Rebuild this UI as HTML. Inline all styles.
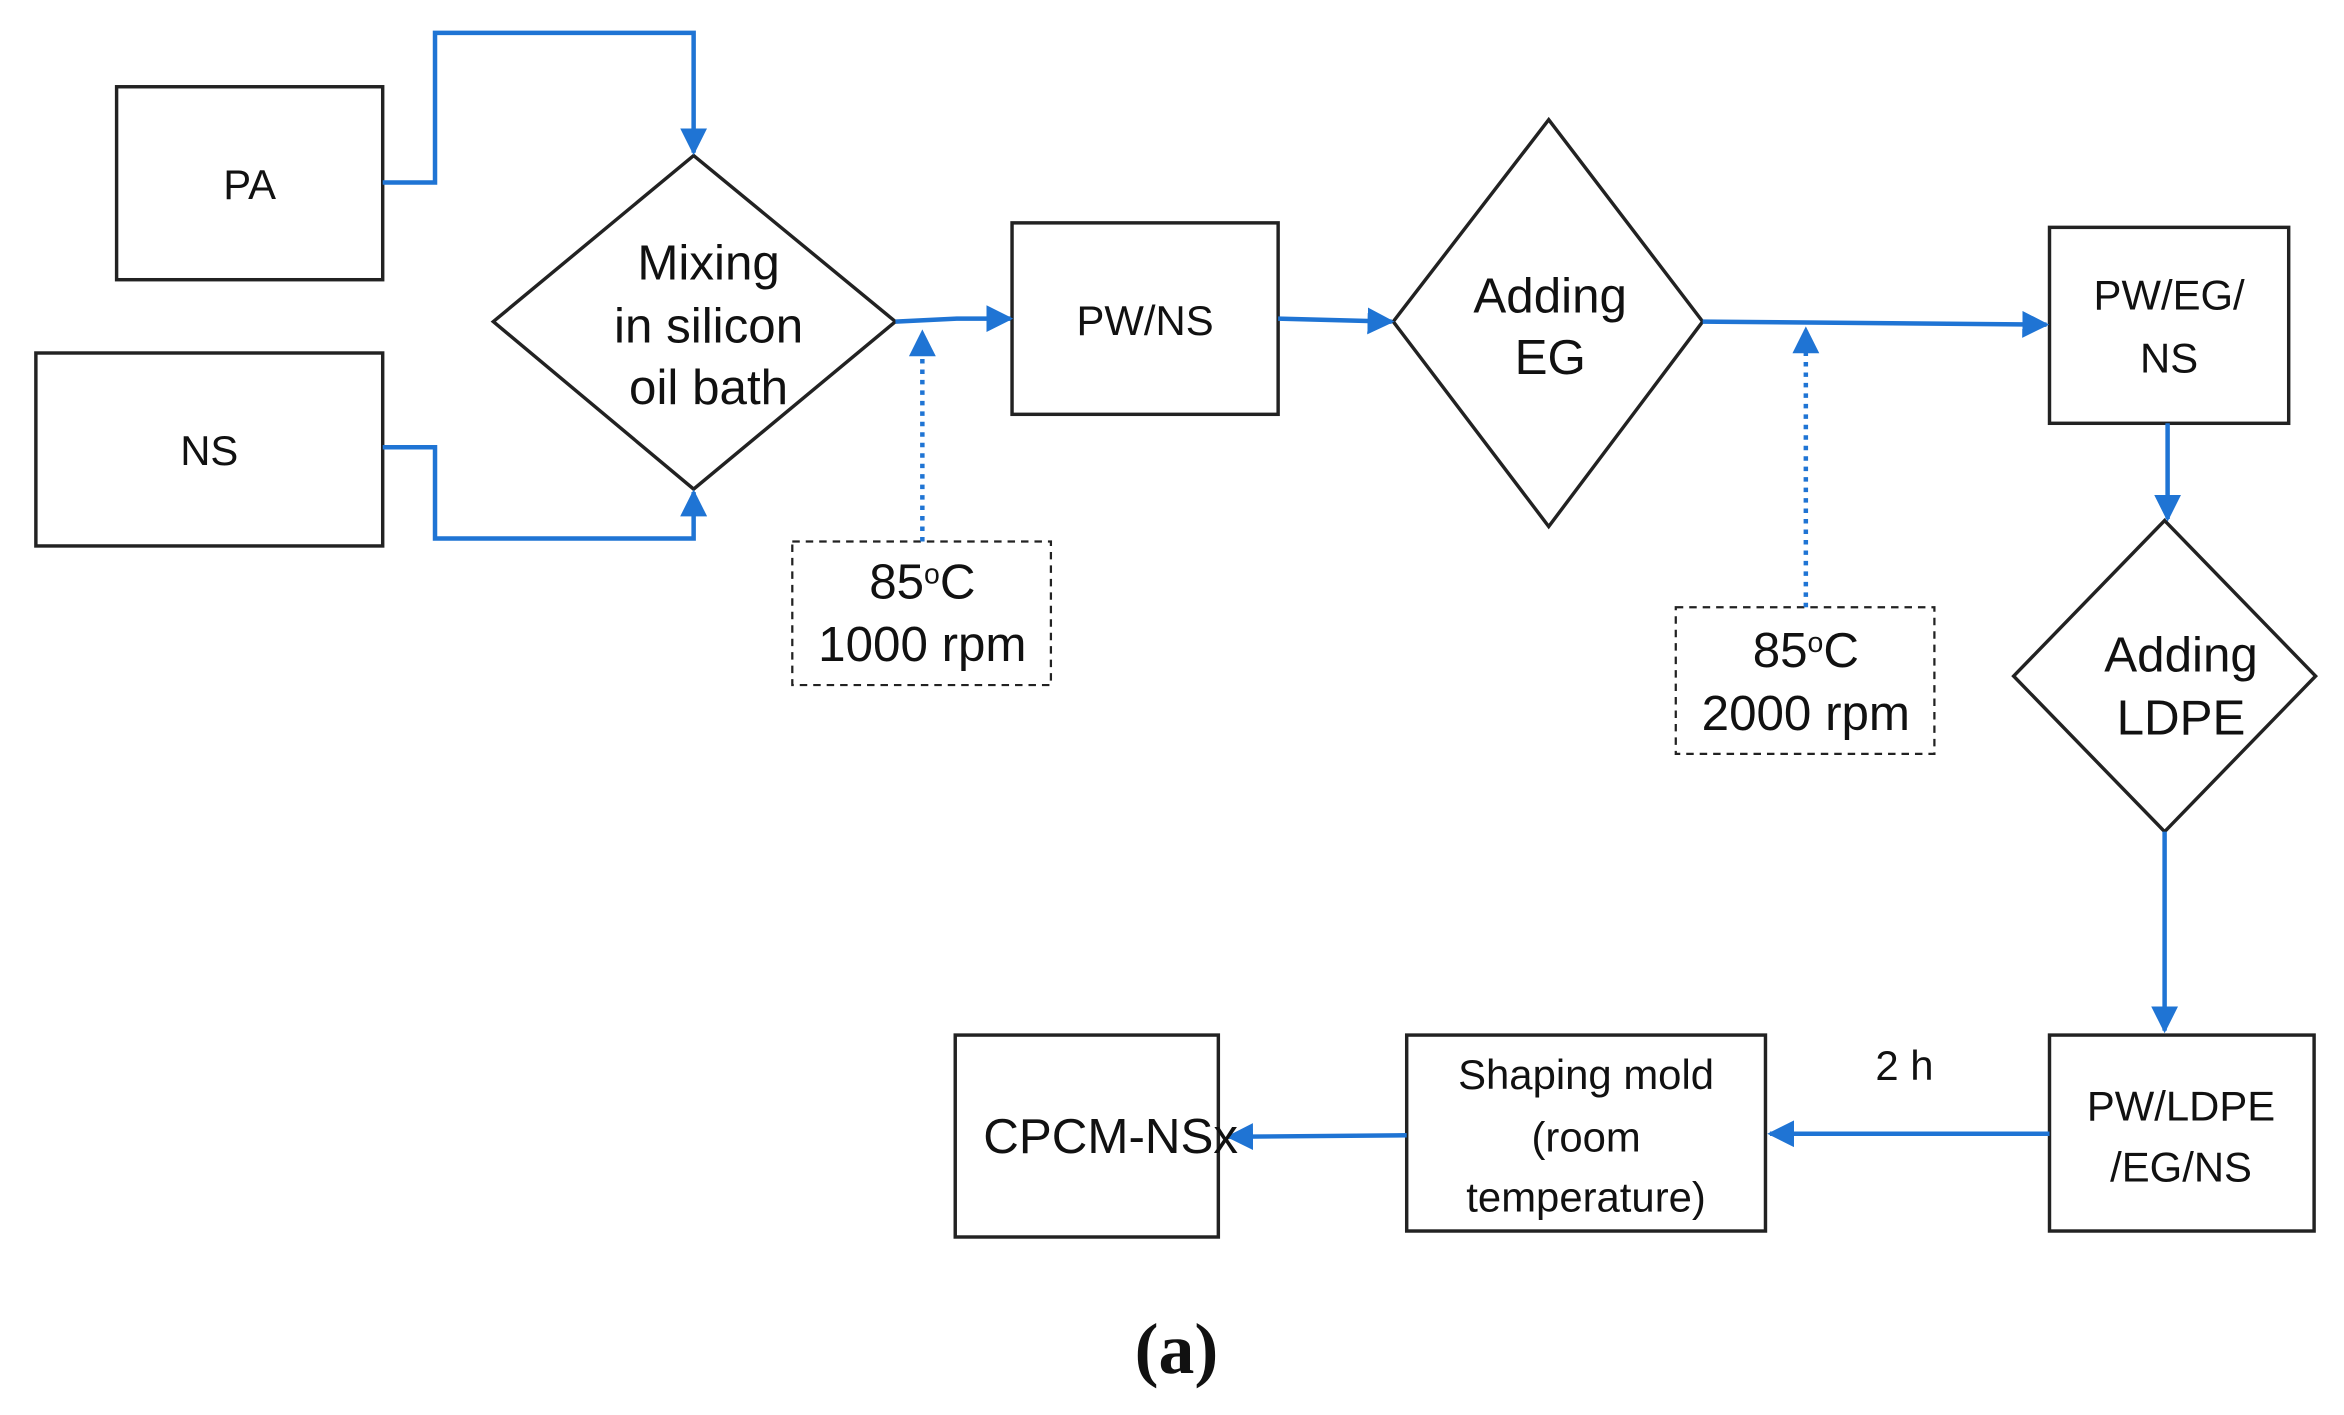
<!DOCTYPE html>
<html><head><meta charset="utf-8"><style>
html,body{margin:0;padding:0;background:#fff;}
svg{display:block;}
text{font-family:"Liberation Sans",sans-serif;fill:#111;text-anchor:middle;}
</style></head><body>
<svg width="2344" height="1415" viewBox="0 0 1568 946" preserveAspectRatio="none" xmlns="http://www.w3.org/2000/svg">
<defs>
<marker id="ahb" viewBox="0 0 10 10" refX="9" refY="5" markerWidth="18" markerHeight="18" orient="auto" markerUnits="userSpaceOnUse">
<path d="M0,0 L10,5 L0,10 z" fill="#1f74d4"/></marker>
</defs>
<g fill="none" stroke="#222" stroke-width="2.3">
<rect x="78" y="58" width="178" height="129"/>
<rect x="24" y="236" width="232" height="129"/>
<polygon points="464,104 599,215 464,327 330,215"/>
<rect x="677" y="149" width="178" height="128"/>
<polygon points="1036,80 1139,215 1036,352 932,215"/>
<rect x="1371" y="152" width="160" height="131"/>
<polygon points="1448,348 1549,452 1448,556 1347,452"/>
<rect x="1371" y="692" width="177" height="131"/>
<rect x="941" y="692" width="240" height="131"/>
<rect x="639" y="692" width="176" height="135"/>
<rect x="530" y="362" width="173" height="96" stroke-dasharray="5,4" stroke-width="1.5"/>
<rect x="1121" y="406" width="173" height="98" stroke-dasharray="5,4" stroke-width="1.5"/>
</g>
<g fill="none" stroke="#1f74d4" stroke-width="3">
<polyline points="256,122 291,122 291,22 464,22 464,102" marker-end="url(#ahb)"/>
<polyline points="256,299 291,299 291,360 464,360 464,329" marker-end="url(#ahb)"/>
<polyline points="599,215 640,213 676,213" marker-end="url(#ahb)"/>
<polyline points="855,213 931,215" marker-end="url(#ahb)"/>
<polyline points="1139,215 1369,217" marker-end="url(#ahb)"/>
<polyline points="1450,283 1450,347" marker-end="url(#ahb)"/>
<polyline points="1448,556 1448,689" marker-end="url(#ahb)"/>
<polyline points="1371,758 1184,758" marker-end="url(#ahb)"/>
<polyline points="941,759 822,760" marker-end="url(#ahb)"/>
<line x1="617" y1="362" x2="617" y2="222" stroke-dasharray="3,4" marker-end="url(#ahb)"/>
<line x1="1208" y1="406" x2="1208" y2="220" stroke-dasharray="3,4" marker-end="url(#ahb)"/>
</g>
<g font-size="28">
<text x="167" y="133">PA</text>
<text x="140" y="311">NS</text>
<text x="766" y="224">PW/NS</text>
<text x="1451" y="207">PW/EG/</text>
<text x="1451" y="249">NS</text>
<text x="1459" y="749">PW/LDPE</text>
<text x="1459" y="790">/EG/NS</text>
<text x="1061" y="728">Shaping mold</text>
<text x="1061" y="770">(room</text>
<text x="1061" y="810">temperature)</text>
<text x="1274" y="722">2 h</text>
</g>
<g font-size="33">
<text x="474" y="187">Mixing</text>
<text x="474" y="229">in silicon</text>
<text x="474" y="270">oil bath</text>
<text x="1037" y="209">Adding</text>
<text x="1037" y="250">EG</text>
<text x="1459" y="449">Adding</text>
<text x="1459" y="491">LDPE</text>
<text x="743" y="771">CPCM-NSx</text>
<text x="617" y="400">85<tspan font-size="19" dy="-10">o</tspan><tspan dy="10">C</tspan></text>
<text x="617" y="442">1000 rpm</text>
<text x="1208" y="446">85<tspan font-size="19" dy="-10">o</tspan><tspan dy="10">C</tspan></text>
<text x="1208" y="488">2000 rpm</text>
</g>
<text x="787" y="918" font-size="48" font-weight="bold" style="font-family:'Liberation Serif',serif;">(a)</text>
</svg>
</body></html>
